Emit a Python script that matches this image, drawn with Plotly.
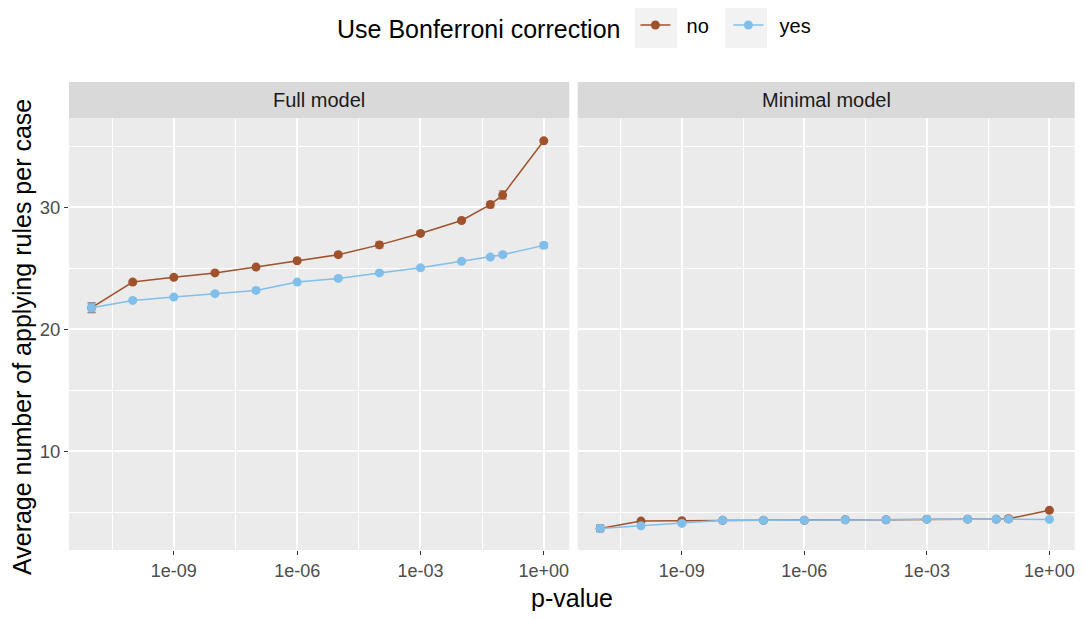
import plotly.graph_objects as go

# p-value thresholds (x axis, log scale)
p_values = [1e-11, 1e-10, 1e-9, 1e-8, 1e-7, 1e-6, 1e-5, 1e-4, 1e-3, 1e-2, 0.05, 0.1, 1]

# Full model
full_no = [21.75, 23.85, 24.24, 24.6, 25.08, 25.6, 26.1, 26.9, 27.84, 28.9, 30.2, 30.98, 35.43]
full_no_err = [0.4, 0.15, 0.1, 0.1, 0.1, 0.1, 0.15, 0.25, 0.15, 0.1, 0.25, 0.35, 0.1]
full_yes = [21.75, 22.35, 22.62, 22.9, 23.17, 23.85, 24.15, 24.6, 25.02, 25.55, 25.9, 26.1, 26.86]
full_yes_err = [0.4, 0.1, 0.1, 0.1, 0.15, 0.1, 0.1, 0.1, 0.1, 0.1, 0.1, 0.15, 0.2]

# Minimal model
min_no = [3.66, 4.26, 4.29, 4.32, 4.32, 4.32, 4.37, 4.37, 4.42, 4.42, 4.42, 4.45, 5.14]
min_no_err = [0.25, 0.1, 0.1, 0.05, 0.05, 0.05, 0.05, 0.1, 0.05, 0.05, 0.05, 0.2, 0.1]
min_yes = [3.66, 3.88, 4.07, 4.32, 4.32, 4.32, 4.37, 4.37, 4.42, 4.42, 4.42, 4.42, 4.4]
min_yes_err = [0.25, 0.1, 0.1, 0.05, 0.05, 0.05, 0.05, 0.05, 0.05, 0.05, 0.05, 0.05, 0.05]

panel_titles = ["Full model", "Minimal model"]
y_ticks = [10, 20, 30]
y_minor = [5, 15, 25, 35]
x_ticks = [1e-9, 1e-6, 1e-3, 1]
x_ticklabels = ["1e-09", "1e-06", "1e-03", "1e+00"]
x_minor = [10 ** -10.5, 10 ** -7.5, 10 ** -4.5, 10 ** -1.5]

BROWN = "#A0522D"
BLUE = "#80BFEA"
FONT = "Liberation Sans, Arial, sans-serif"
PAD = "\u00a0\u00a0"  # pushes legend labels away from their keys

fig = go.Figure()


def add_series(y, err, color, errcolor, name, xa, ya, show):
    fig.add_trace(go.Scatter(
        x=p_values, y=y, name=PAD + name, legendgroup=name, showlegend=show,
        mode="lines+markers", xaxis=xa, yaxis=ya,
        line=dict(color=color, width=1.5),
        marker=dict(color=color, size=9),
        error_y=dict(type="data", array=err, color=errcolor, thickness=1.5, width=4),
    ))


add_series(full_no, full_no_err, BROWN, "rgba(160,82,45,0.55)", "no", "x", "y", True)
add_series(full_yes, full_yes_err, BLUE, "rgba(140,140,160,0.8)", "yes", "x", "y", True)
add_series(min_no, min_no_err, BROWN, "rgba(160,82,45,0.55)", "no", "x2", "y2", False)
add_series(min_yes, min_yes_err, BLUE, "rgba(140,140,160,0.8)", "yes", "x2", "y2", False)

# page has an 8px body margin, so the figure is 1068x603 drawn at (8, 8)
# plot area: 1006 x 468 px; panel 432 px tall with a 36 px strip above
panel_top = 432 / 468


def px_x(px):
    return (px - 69) / 1006


def px_y(py):
    return (550 - py) / 468


xcommon = dict(
    type="log", range=[-11.55, 0.62], tickvals=x_ticks, ticktext=x_ticklabels,
    showgrid=True, gridcolor="white", gridwidth=1.5, zeroline=False,
    ticks="outside", ticklen=4, tickcolor="#333333", tickwidth=1.2,
    tickfont=dict(size=18, color="#4D4D4D", family=FONT),
    minor=dict(tickvals=x_minor, showgrid=True, gridcolor="white", gridwidth=0.7, ticks=""),
    showline=False, automargin=False, ticklabeloverflow="allow",
)
ycommon = dict(
    range=[1.89, 37.3], tickvals=y_ticks,
    showgrid=True, gridcolor="white", gridwidth=1.5, zeroline=False,
    tickcolor="#333333", tickwidth=1.2, ticklen=4,
    tickfont=dict(size=18.5, color="#4D4D4D", family=FONT),
    minor=dict(tickvals=y_minor, showgrid=True, gridcolor="white", gridwidth=0.7, ticks=""),
    domain=[0, panel_top], automargin=False,
)

fig.update_layout(
    width=1068, height=603,
    margin=dict(l=61, r=1, t=74, b=61, autoexpand=False),
    paper_bgcolor="white", plot_bgcolor="#EBEBEB",
    font=dict(family=FONT, color="black"),
    xaxis=dict(domain=[0, px_x(569.3)], anchor="y", **xcommon),
    xaxis2=dict(domain=[px_x(577.7), px_x(1074.7)], anchor="y2", **xcommon),
    yaxis=dict(anchor="x", ticks="outside", **ycommon),
    yaxis2=dict(anchor="x2", matches="y", showticklabels=False, ticks="", **ycommon),
    legend=dict(
        orientation="h", x=px_x(335), xanchor="left", y=px_y(27), yanchor="middle",
        title=dict(text="Use Bonferroni correction ", font=dict(size=25, family=FONT), side="left"),
        font=dict(size=20, family=FONT), bgcolor="rgba(0,0,0,0)",
        entrywidth=48, entrywidthmode="pixels",
    ),
    showlegend=True,
)

# grey legend key backgrounds
for cx in (656, 746):
    fig.add_shape(type="rect", xref="paper", yref="paper",
                  x0=px_x(cx - 21), x1=px_x(cx + 21), y0=px_y(48), y1=px_y(5),
                  fillcolor="#F2F2F2", line=dict(width=0), layer="below")

# facet strips
for xref, title in zip(["x domain", "x2 domain"], panel_titles):
    fig.add_shape(type="rect", xref=xref, yref="paper", x0=0, x1=1, y0=panel_top, y1=1,
                  fillcolor="#D9D9D9", line=dict(width=0), layer="below")
    fig.add_annotation(xref=xref, yref="paper", x=0.5, y=(panel_top + 1) / 2, text=title,
                       showarrow=False, font=dict(size=20, color="#1A1A1A", family=FONT),
                       yanchor="middle")

# axis titles
fig.add_annotation(xref="paper", yref="paper", x=0.5, y=px_y(598), yanchor="middle",
                   text="p-value", showarrow=False, font=dict(size=25, color="black", family=FONT))
fig.add_annotation(xref="paper", yref="paper", x=px_x(22), xanchor="center",
                   y=px_y(337), yanchor="middle", textangle=-90,
                   text="Average number of applying rules per case", showarrow=False,
                   font=dict(size=25, color="black", family=FONT))

fig.write_html("out.html")
